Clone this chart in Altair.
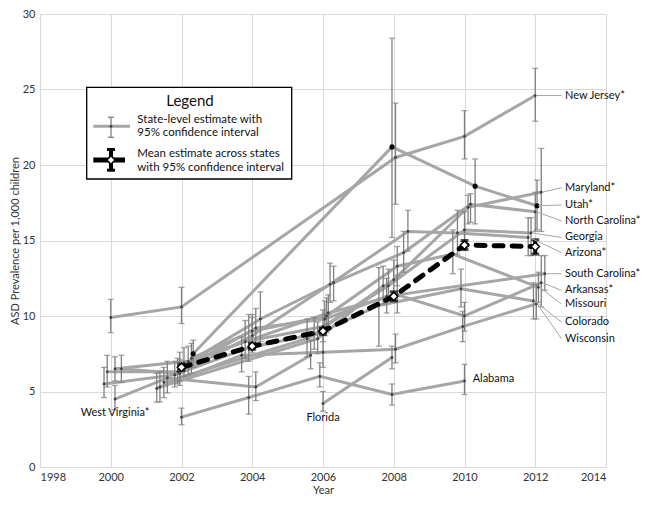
import altair as alt
import pandas as pd

FONT = "Lato"

# ---------------- data (per 1,000 children) ----------------
AL_YEARS = [2002, 2004, 2006, 2008, 2010]
AL_EST = [3.3, 4.6, 6.0, 4.8, 5.7]
AL_LOW = [2.8, 3.5, 5.3, 4.1, 4.8]
AL_HIGH = [3.9, 6.0, 6.9, 5.5, 6.8]

AZ_YEARS = [2000, 2002, 2004, 2006, 2008, 2010, 2012]
AZ_EST = [6.5, 6.2, 8.7, 12.1, 15.6, 15.5, 15.2]
AZ_LOW = [5.6, 5.4, 7.6, 10.9, 14.3, 14.1, 14.0]
AZ_HIGH = [7.4, 7.1, 9.9, 13.5, 17.0, 17.0, 16.5]

AR_YEARS = [2002, 2006, 2008, 2010, 2012]
AR_EST = [6.9, 10.2, 11.4, 10.0, 12.2]
AR_LOW = [6.0, 9.1, 10.2, 9.0, 10.6]
AR_HIGH = [7.9, 11.4, 12.7, 10.9, 14.0]

CO_YEARS = [2002, 2006, 2008, 2010, 2012]
CO_EST = [5.6, 8.5, 10.7, 11.8, 11.0]
CO_LOW = [4.6, 7.3, 8.0, 10.6, 9.8]
CO_HIGH = [6.6, 9.8, 13.2, 13.1, 12.2]

FL_YEARS = [2006, 2008]
FL_EST = [4.2, 7.25]
FL_LOW = [3.7, 6.5]
FL_HIGH = [5.0, 8.0]

GA_YEARS = [2000, 2002, 2004, 2006, 2008, 2010, 2012]
GA_EST = [6.5, 7.0, 8.3, 9.3, 12.0, 15.7, 15.5]
GA_LOW = [5.7, 6.1, 7.2, 8.3, 11.0, 14.6, 14.0]
GA_HIGH = [7.3, 8.0, 9.7, 10.4, 13.1, 16.9, 16.5]

MD_YEARS = [2000, 2002, 2004, 2006, 2008, 2010, 2012]
MD_EST = [5.5, 6.1, 7.9, 8.8, 12.4, 17.2, 18.2]
MD_LOW = [4.6, 5.3, 7.0, 7.8, 11.2, 16.1, 15.6]
MD_HIGH = [6.6, 7.0, 10.1, 9.9, 13.7, 18.0, 21.1]

MO_YEARS = [2002, 2004, 2006, 2008, 2010, 2012]
MO_EST = [7.2, 9.0, 10.0, 13.3, 14.1, 11.9]
MO_LOW = [6.2, 7.8, 8.9, 12.0, 12.8, 10.9]
MO_HIGH = [8.2, 10.1, 11.2, 14.6, 15.7, 12.9]

NJ_YEARS = [2000, 2002, 2008, 2010, 2012]
NJ_EST = [9.9, 10.6, 20.5, 21.9, 24.6]
NJ_LOW = [8.9, 9.5, 17.4, 20.4, 22.9]
NJ_HIGH = [11.1, 11.9, 24.1, 23.6, 26.4]

NC_YEARS = [2002, 2004, 2006, 2008, 2010, 2012]
NC_EST = [6.6, 9.8, 12.2, 14.2, 17.4, 16.9]
NC_LOW = [5.7, 8.3, 11.0, 12.9, 16.2, 15.6]
NC_HIGH = [7.6, 11.6, 13.3, 15.6, 18.1, 18.2]

PA_YEARS = [2002, 2006, 2008]
PA_EST = [5.3, 8.5, 12.0]
PA_LOW = [4.3, 7.5, 10.8]
PA_HIGH = [6.3, 9.6, 13.3]

SC_YEARS = [2000, 2002, 2004, 2006, 2008, 2012]
SC_EST = [6.3, 6.3, 9.2, 9.8, 11.3, 12.8]
SC_LOW = [5.3, 5.5, 8.0, 8.7, 10.2, 11.7]
SC_HIGH = [7.4, 7.2, 10.5, 11.0, 12.5, 14.0]

UT_YEARS = [2002, 2008, 2010, 2012]
UT_EST = [7.5, 21.2, 18.6, 17.3]
UT_LOW = [6.6, 15.2, 16.1, 15.7]
UT_HIGH = [8.4, 28.4, 20.4, 19.0]

WV_YEARS = [2000, 2002, 2004, 2006]
WV_EST = [4.5, 5.9, 5.3, 7.4]
WV_LOW = [3.8, 4.9, 4.4, 6.5]
WV_HIGH = [5.4, 7.0, 6.3, 8.4]

WI_YEARS = [2002, 2004, 2006, 2008, 2010, 2012]
WI_EST = [5.2, 7.4, 7.6, 7.8, 9.3, 10.8]
WI_LOW = [4.3, 6.3, 6.6, 6.9, 8.3, 9.8]
WI_HIGH = [6.2, 8.6, 8.7, 8.8, 10.3, 12.1]

MEAN_YEARS = [2002, 2004, 2006, 2008, 2010, 2012]
MEAN_EST = [6.6, 8.0, 9.0, 11.3, 14.7, 14.6]
MEAN_LOW = [6.4, 7.8, 8.8, 11.0, 14.4, 14.1]
MEAN_HIGH = [6.8, 8.2, 9.2, 11.6, 15.0, 15.05]

# horizontal jitter (years) used to separate overlapping states
AL_JIT = [0.0, -0.1, -0.09, -0.05, 0.0]
AZ_JIT = [0.3, -0.05, 0.0, 0.2, 0.4, -0.2, -0.2]
AR_JIT = [0.07, 0.15, 0.1, 0.0, 0.17]
CO_JIT = [-0.5, -0.45, -0.42, -0.1, -0.05]
FL_JIT = [0.0, -0.05]
GA_JIT = [0.12, 0.19, -0.2, 0.0, -0.15, 0.0, -0.12]
MD_JIT = [-0.19, -0.19, -0.1, -0.25, 0.0, 0.1, 0.17]
MO_JIT = [0.28, 0.0, 0.1, 0.1, -0.33, 0.09]
NJ_JIT = [0.0, 0.0, 0.05, 0.0, 0.0]
NC_JIT = [-0.05, 0.23, 0.3, 0.28, 0.17, 0.0]
PA_JIT = [-0.61, -0.15, -0.3]
SC_JIT = [-0.1, -0.11, 0.1, 0.05, -0.2, 0.27]
UT_JIT = [0.33, -0.05, 0.3, 0.05]
WV_JIT = [0.12, -0.4, 0.1, -0.35]
WI_JIT = [-0.7, -0.3, 0.0, 0.05, -0.05, 0.03]

STATES = [
    ("Alabama", AL_YEARS, AL_EST, AL_LOW, AL_HIGH, AL_JIT),
    ("Arizona", AZ_YEARS, AZ_EST, AZ_LOW, AZ_HIGH, AZ_JIT),
    ("Arkansas", AR_YEARS, AR_EST, AR_LOW, AR_HIGH, AR_JIT),
    ("Colorado", CO_YEARS, CO_EST, CO_LOW, CO_HIGH, CO_JIT),
    ("Florida", FL_YEARS, FL_EST, FL_LOW, FL_HIGH, FL_JIT),
    ("Georgia", GA_YEARS, GA_EST, GA_LOW, GA_HIGH, GA_JIT),
    ("Maryland", MD_YEARS, MD_EST, MD_LOW, MD_HIGH, MD_JIT),
    ("Missouri", MO_YEARS, MO_EST, MO_LOW, MO_HIGH, MO_JIT),
    ("New Jersey", NJ_YEARS, NJ_EST, NJ_LOW, NJ_HIGH, NJ_JIT),
    ("North Carolina", NC_YEARS, NC_EST, NC_LOW, NC_HIGH, NC_JIT),
    ("Pennsylvania", PA_YEARS, PA_EST, PA_LOW, PA_HIGH, PA_JIT),
    ("South Carolina", SC_YEARS, SC_EST, SC_LOW, SC_HIGH, SC_JIT),
    ("Utah", UT_YEARS, UT_EST, UT_LOW, UT_HIGH, UT_JIT),
    ("West Virginia", WV_YEARS, WV_EST, WV_LOW, WV_HIGH, WV_JIT),
    ("Wisconsin", WI_YEARS, WI_EST, WI_LOW, WI_HIGH, WI_JIT),
]

# end-of-line labels (2012) and their vertical placement (value units)
END_LABELS = ["New Jersey*", "Maryland*", "Utah*", "North Carolina*", "Georgia", "Arizona*",
              "South Carolina*", "Arkansas*", "Missouri", "Colorado", "Wisconsin"]
END_STATES = ["New Jersey", "Maryland", "Utah", "North Carolina", "Georgia", "Arizona",
              "South Carolina", "Arkansas", "Missouri", "Colorado", "Wisconsin"]
END_LABEL_Y = [24.6, 18.5, 17.35, 16.3, 15.2, 14.2, 12.8, 11.7, 10.8, 9.6, 8.5]

OTHER_LABELS = ["West Virginia*", "Florida", "Alabama"]
OTHER_LABEL_X = [2000.12, 2006.0, 2010.23]
OTHER_LABEL_Y = [3.55, 3.27, 5.8]
OTHER_LABEL_ALIGN = ["center", "center", "left"]

# ---------------- build tables ----------------
rows = []
for name, yrs, est, lo, hi, jit in STATES:
    for y, e, l, h, j in zip(yrs, est, lo, hi, jit):
        rows.append(dict(state=name, year=y, x=y + j, y=e, low=l, high=h,
                         utah=(name == "Utah")))
df = pd.DataFrame(rows)

mean_df = pd.DataFrame(dict(x=MEAN_YEARS, y=MEAN_EST, low=MEAN_LOW, high=MEAN_HIGH))

lead_rows = []
for lab, st, ly in zip(END_LABELS, END_STATES, END_LABEL_Y):
    r = df[(df.state == st) & (df.year == 2012)].iloc[0]
    lead_rows.append(dict(label=lab, x=r.x + 0.03, y=r.y, x2=2012.74, y2=ly, lx=2012.84, ly=ly))
lead_df = pd.DataFrame(lead_rows)

other_df = pd.DataFrame(dict(label=OTHER_LABELS, x=OTHER_LABEL_X, y=OTHER_LABEL_Y,
                             align=OTHER_LABEL_ALIGN))

# ---------------- scales / axes ----------------
xscale = alt.Scale(domain=[1998, 2014], nice=False, zero=False)
yscale = alt.Scale(domain=[0, 30], nice=False, zero=True)
xaxis = alt.Axis(values=list(range(1998, 2015, 2)), format="d", title="Year",
                 grid=True, gridColor="#d9d9d9", gridWidth=1, domain=False, ticks=False,
                 labelPadding=4, labelFont=FONT, labelFontSize=11, labelColor="#333333",
                 titleFont=FONT, titleFontSize=11, titleFontWeight="normal",
                 titleColor="#333333", titlePadding=2)
yaxis = alt.Axis(values=list(range(0, 31, 5)), title="ASD Prevalence per 1,000 children",
                 grid=True, gridColor="#d9d9d9", gridWidth=1, domain=False, ticks=False,
                 labelPadding=5, labelFont=FONT, labelFontSize=11, labelColor="#333333",
                 titleFont=FONT, titleFontSize=11, titleFontWeight="normal",
                 titleColor="#333333", titlePadding=2)


def X(f="x"):
    return alt.X(f"{f}:Q", scale=xscale, axis=xaxis)


def Y(f="y"):
    return alt.Y(f"{f}:Q", scale=yscale, axis=yaxis)


GRAY_LINE = "#a6a6a6"
GRAY_BAR = "#7f7f7f"
LABEL_SIZE = 11

base = alt.Chart(df)
lines = base.mark_line(color=GRAY_LINE, strokeWidth=3).encode(
    x=X(), y=Y(), detail="state:N", order="x:Q")
err = base.mark_rule(color=GRAY_BAR, strokeWidth=1.3).encode(x=X(), y=Y("low"), y2="high:Q")
cap_lo = base.mark_tick(color=GRAY_BAR, thickness=1.3, size=6, orient="horizontal").encode(
    x=X(), y=Y("low"))
cap_hi = base.mark_tick(color=GRAY_BAR, thickness=1.3, size=6, orient="horizontal").encode(
    x=X(), y=Y("high"))
pts = base.transform_filter("!datum.utah").mark_circle(color="#404040", size=8, opacity=1).encode(
    x=X(), y=Y())
pts_ut = base.transform_filter("datum.utah").mark_circle(color="#000000", size=26, opacity=1).encode(
    x=X(), y=Y())

mbase = alt.Chart(mean_df)
mline = mbase.mark_line(color="black", strokeWidth=5, strokeDash=[9, 9], strokeCap="round").encode(
    x=X(), y=Y())
merr = mbase.mark_rule(color="black", strokeWidth=4).encode(x=X(), y=Y("low"), y2="high:Q")
mcap_lo = mbase.mark_tick(color="black", thickness=3, size=8, orient="horizontal").encode(
    x=X(), y=Y("low"))
mcap_hi = mbase.mark_tick(color="black", thickness=3, size=8, orient="horizontal").encode(
    x=X(), y=Y("high"))
mpts = mbase.mark_point(shape="diamond", filled=True, fill="white", stroke="black",
                        strokeWidth=1.5, size=70, opacity=1).encode(x=X(), y=Y())

lbase = alt.Chart(lead_df)
leaders = lbase.mark_rule(color="#a6a6a6", strokeWidth=1).encode(
    x=X(), y=Y(), x2="x2:Q", y2="y2:Q")
end_text = lbase.mark_text(align="left", baseline="middle", font=FONT, fontSize=LABEL_SIZE,
                           color="#111111").encode(x=X("lx"), y=Y("ly"), text="label:N")

obase = alt.Chart(other_df)
other_c = obase.transform_filter("datum.align == 'center'").mark_text(
    align="center", baseline="middle", font=FONT, fontSize=LABEL_SIZE, color="#111111").encode(
    x=X(), y=Y(), text="label:N")
other_l = obase.transform_filter("datum.align == 'left'").mark_text(
    align="left", baseline="middle", font=FONT, fontSize=LABEL_SIZE, color="#111111").encode(
    x=X(), y=Y(), text="label:N")

# ---------------- hand-drawn legend box (pixel placement) ----------------
one = alt.Data(values=[{"k": 1}])
lg = []
lg.append(alt.Chart(one).mark_rect(fill="white", stroke="black", strokeWidth=1.3).encode(
    x=alt.value(46.7), x2=alt.value(251.7), y=alt.value(73.3), y2=alt.value(165)))
lg.append(alt.Chart(one).mark_text(text="Legend", font=FONT, fontSize=15, align="center",
                                   baseline="middle", color="#111111").encode(
    x=alt.value(150), y=alt.value(86.7)))
for txt, yy in [("State-level estimate with", 105.7), ("95% confidence interval", 119.0),
                ("Mean estimate across states", 140.0), ("with 95% confidence interval", 154.3)]:
    lg.append(alt.Chart(one).mark_text(text=txt, font=FONT, fontSize=11.5, align="left",
                                       baseline="middle", color="#111111").encode(
        x=alt.value(97.3), y=alt.value(yy)))
# gray symbol
lg.append(alt.Chart(one).mark_rule(color=GRAY_LINE, strokeWidth=3).encode(
    x=alt.value(53.3), x2=alt.value(90), y=alt.value(112.3)))
lg.append(alt.Chart(one).mark_rule(color=GRAY_BAR, strokeWidth=1.3).encode(
    x=alt.value(71), y=alt.value(103.3), y2=alt.value(123.3)))
for yy in (103.3, 123.3):
    lg.append(alt.Chart(one).mark_rule(color=GRAY_BAR, strokeWidth=1.3).encode(
        x=alt.value(68), x2=alt.value(74), y=alt.value(yy)))
lg.append(alt.Chart(one).mark_circle(color="#404040", size=8, opacity=1).encode(
    x=alt.value(71), y=alt.value(112.3)))
# black symbol
lg.append(alt.Chart(one).mark_rule(color="black", strokeWidth=5).encode(
    x=alt.value(53.3), x2=alt.value(85), y=alt.value(146)))
lg.append(alt.Chart(one).mark_rule(color="black", strokeWidth=4).encode(
    x=alt.value(71), y=alt.value(135), y2=alt.value(156.7)))
for yy in (135.5, 156.2):
    lg.append(alt.Chart(one).mark_rule(color="black", strokeWidth=3).encode(
        x=alt.value(67), x2=alt.value(75), y=alt.value(yy)))
lg.append(alt.Chart(one).mark_point(shape="diamond", filled=True, fill="white", stroke="black",
                                    strokeWidth=1.5, size=70, opacity=1).encode(
    x=alt.value(71), y=alt.value(146)))

chart = alt.layer(
    lines, err, cap_lo, cap_hi, pts, pts_ut,
    mline, merr, mcap_lo, mcap_hi, mpts,
    leaders, end_text, other_c, other_l,
    *lg
).properties(
    width=566, height=453,
    autosize=alt.AutoSizeParams(type="none"),
    padding={"left": 32, "top": 6, "right": 34, "bottom": 31},
    background="white",
).configure_view(stroke=None)

chart.save("out.html", embed_options={"renderer": "svg", "actions": False})
